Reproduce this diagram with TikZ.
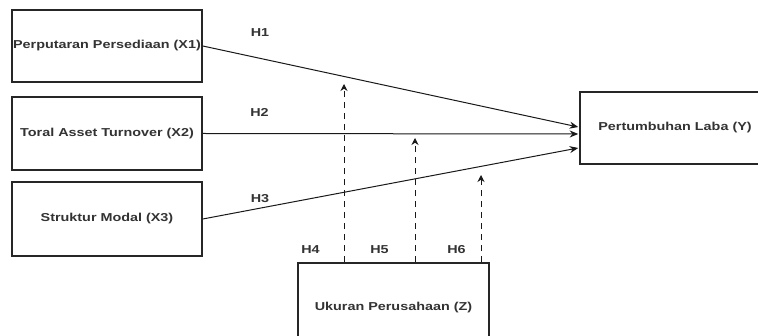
\documentclass[tikz,border=0pt]{standalone}
\usepackage{fontspec}
\setmainfont{Liberation Sans}[FakeStretch=1.25]
\usetikzlibrary{arrows.meta,calc}
\begin{document}
\begin{tikzpicture}[x=1pt,y=-1pt,
  varbox/.style={draw=black!85,line width=1.6pt,rectangle,inner sep=0pt,
    minimum width=190pt,minimum height=72pt,font=\fontsize{11.5}{13}\selectfont\bfseries,text=black!80},
  hlabel/.style={inner sep=0pt,anchor=base,font=\fontsize{11.5}{13}\selectfont\bfseries,text=black!80},
  path/.style={draw=black!90,line width=1pt,-{Stealth[length=8.5pt,width=7pt]}},
  modpath/.style={draw=black!90,line width=1pt,dash pattern=on 6pt off 5pt,-{Stealth[length=7pt,width=7pt]}}]
\useasboundingbox[fill=white] (0,0) rectangle (758,336);
\clip (0,0) rectangle (758,336);
\node[varbox,minimum height=72pt] (x1) at (107,46) {Perputaran Persediaan (X1)};
\node[varbox,minimum height=73pt] (x2) at (107,133.5) {Toral Asset Turnover (X2)};
\node[varbox,minimum height=74pt] (x3) at (107,219) {Struktur Modal (X3)};
\node[varbox,minimum height=72pt] (y) at (675,128) {Pertumbuhan Laba (Y)};
\node[varbox,minimum width=191pt,minimum height=90pt] (z) at (393.5,308) {Ukuran Perusahaan (Z)};
\coordinate (y1) at ($(y.west)+(-1,-1)$);
\coordinate (y2) at ($(y.west)+(-1,6)$);
\coordinate (y3) at ($(y.west)+(-1,20)$);
\draw[path] (x1.east) -- (y1);
\draw[path] (x2.east) -- (y2);
\draw[path] (x3.east) -- (y3);
\coordinate (t4) at (344,84);
\coordinate (t5) at (415,138);
\coordinate (t6) at (481,175);
\draw[modpath] (t4 |- z.north) -- (t4);
\draw[modpath] (t5 |- z.north) -- (t5);
\draw[modpath] (t6 |- z.north) -- (t6);
\node[hlabel] (h1) at (260,37) {H1};
\node[hlabel] (h2) at (259.5,117) {H2};
\node[hlabel] (h3) at (260,203) {H3};
\node[hlabel] (h4) at (310.5,254) {H4};
\node[hlabel] (h5) at (379.5,254) {H5};
\node[hlabel] (h6) at (456.5,254) {H6};
\end{tikzpicture}
\end{document}
